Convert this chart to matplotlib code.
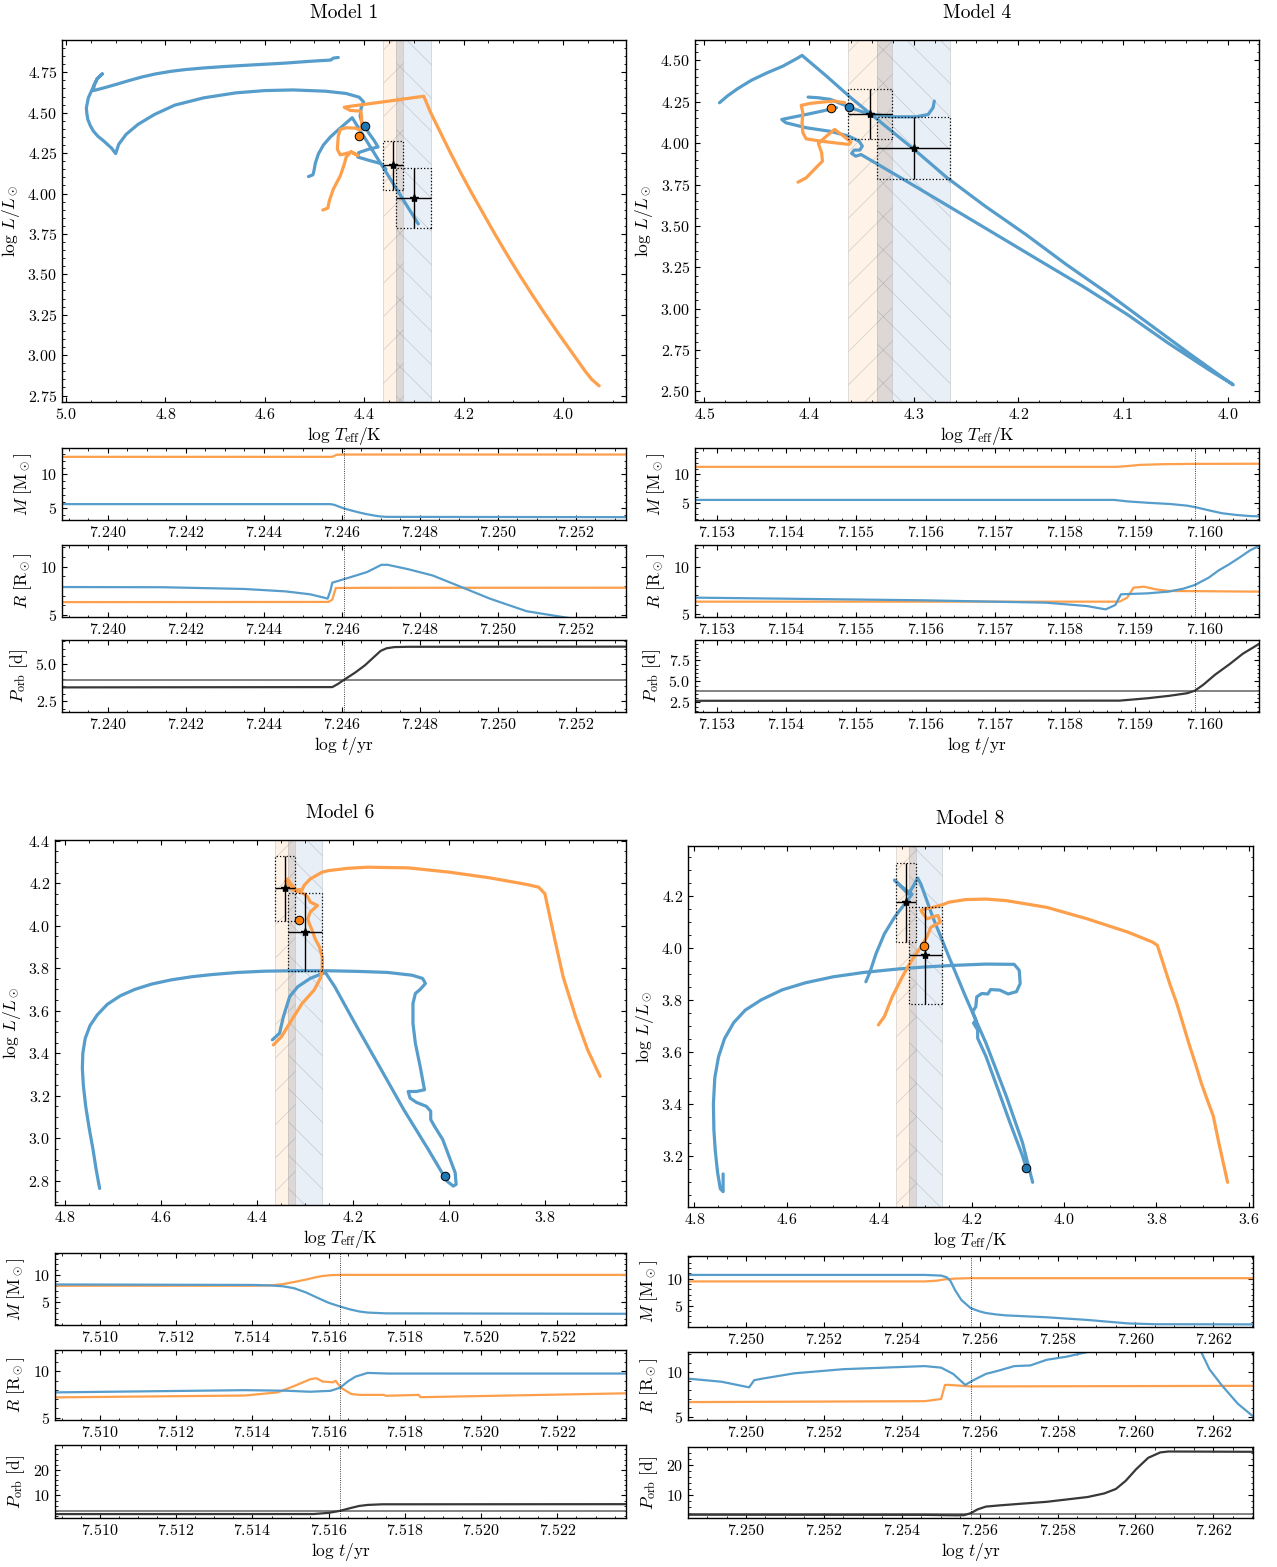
import numpy as np
import matplotlib
matplotlib.use('Agg')
import matplotlib.pyplot as plt
from matplotlib.patches import Rectangle
from matplotlib.ticker import MultipleLocator, AutoMinorLocator

nan = np.nan

# observed components (log Teff, log L) with errors
obs_teff = [4.342, 4.300]
obs_teff_err = [0.021, 0.035]
obs_lum = [4.175, 3.970]
obs_lum_err = [0.152, 0.185]
obs_porb = 3.9

# ---------------- Model 1 ----------------
m1_blue_teff = [4.452, 4.462, 4.467, 4.510, 4.559, 4.600, 4.641, 4.680, 4.723, 4.760, 4.789, 4.820,
                4.846, 4.872, 4.896, 4.920, 4.937, 4.945,
                4.943, 4.937, 4.927, 4.937, 4.945, 4.955, 4.959, 4.958, 4.956, 4.951, 4.945, 4.936,
                4.924, 4.908, 4.900,
                4.894, 4.879, 4.855, 4.822, 4.781, 4.723, 4.658, 4.600, 4.543, 4.477, 4.436, 4.410,
                4.401, 4.406, 4.408, 4.405, 4.399, 4.391, 4.380, 4.372, 4.391, 4.411, 4.413, 4.391,
                4.366, 4.356, nan,
                4.512, 4.503, 4.501, 4.498, 4.492, 4.482, 4.468, 4.450, 4.435, 4.424, 4.291]
m1_blue_lum = [4.842, 4.838, 4.826, 4.818, 4.807, 4.800, 4.793, 4.786, 4.777, 4.767, 4.756, 4.740,
               4.722, 4.700, 4.678, 4.657, 4.643, 4.637,
               4.674, 4.711, 4.740, 4.711, 4.660, 4.592, 4.530, 4.495, 4.458, 4.420, 4.387, 4.355,
               4.325, 4.280, 4.247,
               4.304, 4.366, 4.428, 4.489, 4.547, 4.592, 4.623, 4.637, 4.641, 4.633, 4.619, 4.596,
               4.567, 4.530, 4.479, 4.444, 4.419, 4.376, 4.329, 4.288, 4.274, 4.253, 4.226, 4.206,
               4.185, 4.150, nan,
               4.105, 4.116, 4.140, 4.190, 4.245, 4.300, 4.350, 4.400, 4.440, 4.469, 3.812]
m1_orange_teff = [4.483, 4.473, 4.470, 4.462, 4.448, 4.440, 4.436, 4.426, 4.413, 4.426, 4.448, 4.454,
                  4.452, 4.448, 4.436, 4.418, 4.408, 4.405, 4.405, 4.407, 4.428, 4.440, 4.428, 4.362,
                  4.313, 4.280, 4.266, 4.250, 4.226, 4.205, 4.183, 4.160, 4.137, 4.113, 4.088, 4.062,
                  4.035, 4.007, 3.978, 3.955, 3.942, 3.927]
m1_orange_lum = [3.898, 3.910, 3.955, 4.027, 4.109, 4.181, 4.226, 4.259, 4.236, 4.256, 4.239, 4.274,
                 4.356, 4.397, 4.407, 4.405, 4.392, 4.428, 4.479, 4.510, 4.514, 4.534, 4.540, 4.567,
                 4.588, 4.602, 4.500, 4.400, 4.250, 4.125, 4.000, 3.875, 3.750, 3.625, 3.500, 3.375,
                 3.250, 3.125, 3.000, 2.900, 2.850, 2.810]
m1_dots = [(4.399, 4.419), (4.410, 4.356)]

m1_t_mo = [7.23883, 7.24576, 7.24587, 7.24606, 7.25329]
m1_mo = [12.6, 12.6, 12.9, 12.94, 12.94]
m1_t_mb = [7.23883, 7.24570, 7.24580, 7.24592, 7.24606, 7.24625, 7.24645, 7.24665, 7.24686, 7.24700,
           7.24715, 7.25329]
m1_mb = [5.64, 5.64, 5.55, 5.3, 5.0, 4.7, 4.4, 4.15, 3.93, 3.82, 3.76, 3.72]
m1_t_rb = [7.23883, 7.24141, 7.24351, 7.24456, 7.24519, 7.24555, 7.24564, 7.24571, 7.24576, 7.24613,
           7.24665, 7.24702, 7.24718, 7.24770, 7.24833, 7.24907, 7.24980, 7.25074, 7.25174, 7.25329]
m1_rb = [7.9, 7.88, 7.7, 7.45, 7.15, 6.8, 6.7, 7.5, 8.35, 8.8, 9.45, 10.2, 10.2, 9.75, 9.1, 7.9,
         6.7, 5.4, 4.75, 3.8]
m1_t_ro = [7.23883, 7.24566, 7.24576, 7.24585, 7.24665, 7.25329]
m1_ro = [6.34, 6.36, 6.6, 7.8, 7.82, 7.83]
m1_t_p = [7.23883, 7.24576, 7.24590, 7.24606, 7.24634, 7.24660, 7.24681, 7.24700, 7.24715, 7.24735,
          7.24770, 7.25329]
m1_p = [3.43, 3.45, 3.65, 3.93, 4.4, 4.9, 5.4, 5.85, 6.02, 6.1, 6.12, 6.13]
m1_t_cross = 7.24606

# ---------------- Model 4 ----------------
m4_blue_teff = [4.4856, 4.4780, 4.4680, 4.4550, 4.4400, 4.4250, 4.4120, 4.4067, 4.3834, 4.3600, 4.3289,
                4.2978, 4.2679, 4.2317, 4.1928, 4.1540, 4.1151, 4.0762, 4.0373, 4.0062, 3.9946, 4.0179,
                4.0568, 4.0957, 4.1384, 4.1812, 4.2240, 4.2667, 4.3095, 4.3503, 4.3554, 4.3593, 4.3569,
                4.3515, 4.3491, 4.3522, 4.3620, 4.3795, 4.4028, 4.4222, 4.4261, 4.4183, 4.4028, 4.3872,
                4.3736, nan,
                4.4009, 4.3911, 4.3795, 4.3678, 4.3620, 4.3445, 4.3211, 4.2978, 4.2862, 4.2815, 4.2803]
m4_blue_lum = [4.244, 4.285, 4.330, 4.380, 4.425, 4.465, 4.510, 4.530, 4.405, 4.274, 4.113,
               3.952, 3.790, 3.619, 3.448, 3.266, 3.095, 2.913, 2.732, 2.591, 2.540, 2.631,
               2.792, 2.964, 3.135, 3.296, 3.458, 3.619, 3.780, 3.931, 3.921, 3.938, 3.958,
               3.958, 3.982, 4.012, 4.042, 4.071, 4.093, 4.123, 4.143, 4.153, 4.173, 4.194,
               4.214, nan,
               4.278, 4.274, 4.264, 4.234, 4.218, 4.179, 4.159, 4.159, 4.173, 4.214, 4.254]
m4_orange_teff = [4.4106, 4.4028, 4.3950, 4.3872, 4.3880, 4.3911, 4.3834, 4.3756, 4.3678, 4.3600, 4.3620,
                  4.3756, 4.3892, 4.4028, 4.4059, 4.4067, 4.4059, 4.4075, 4.3989, 4.3872, 4.3756, 4.3659]
m4_orange_lum = [3.764, 3.790, 3.841, 3.891, 3.942, 3.998, 4.042, 4.083, 4.046, 4.006, 3.992,
                 4.002, 4.012, 4.026, 4.063, 4.123, 4.183, 4.228, 4.240, 4.248, 4.254, 4.244]
m4_dots = [(4.362, 4.218), (4.3795, 4.210)]

m4_t_mo = [7.15269, 7.15875, 7.15890, 7.15907, 7.15940, 7.15986, 7.16078]
m4_mo = [11.35, 11.35, 11.5, 11.7, 11.82, 11.88, 11.9]
m4_t_mb = [7.15269, 7.15870, 7.15890, 7.15920, 7.15950, 7.15975, 7.15986, 7.16005, 7.16025, 7.16045,
           7.16065, 7.16078]
m4_mb = [5.47, 5.47, 5.2, 4.95, 4.75, 4.45, 4.2, 3.65, 3.1, 2.8, 2.6, 2.55]
m4_t_rb = [7.15269, 7.15598, 7.15773, 7.15831, 7.15858, 7.15872, 7.15880, 7.15918, 7.15948, 7.15970,
           7.15986, 7.16006, 7.16020, 7.16035, 7.16050, 7.16065, 7.16078]
m4_rb = [6.75, 6.47, 6.22, 5.87, 5.52, 5.98, 7.1, 7.2, 7.38, 7.7, 8.08, 8.85, 9.6, 10.24, 10.95,
         11.7, 12.17]
m4_t_ro = [7.15269, 7.15878, 7.15889, 7.15898, 7.15913, 7.15930, 7.15948, 7.16078]
m4_ro = [6.33, 6.33, 6.75, 7.8, 7.9, 7.62, 7.45, 7.38]
m4_t_p = [7.15269, 7.15878, 7.15918, 7.15950, 7.15975, 7.15986, 7.15998, 7.16015, 7.16035, 7.16055,
          7.16078]
m4_p = [2.7, 2.72, 3.0, 3.3, 3.6, 3.9, 4.6, 5.8, 7.0, 8.3, 9.45]
m4_t_cross = 7.15986

# ---------------- Model 6 ----------------
m6_blue_teff = [4.728, 4.735, 4.742, 4.750, 4.757, 4.762, 4.764, 4.763, 4.758, 4.748, 4.733, 4.712,
                4.685, 4.655, 4.620, 4.579, 4.535, 4.494, 4.440, 4.383, 4.320, 4.255, 4.190,
                4.128, 4.077, 4.055, 4.049, 4.060, 4.070, 4.075, 4.075, 4.070, 4.060, 4.051, 4.068,
                4.085, 4.081, 4.068, 4.047, 4.038, 4.038, 4.030, 4.013, 4.000, 3.987, 3.985, 3.991,
                4.004, 4.043, 4.094, 4.145, 4.196, 4.238, 4.257, 4.264, 4.289, 4.315, 4.332, 4.345,
                4.353, 4.368]
m6_blue_lum = [2.764, 2.850, 2.950, 3.050, 3.150, 3.250, 3.330, 3.400, 3.470, 3.530, 3.580, 3.630,
               3.670, 3.700, 3.725, 3.745, 3.760, 3.770, 3.780, 3.786, 3.788, 3.788, 3.785,
               3.780, 3.767, 3.752, 3.728, 3.700, 3.681, 3.634, 3.541, 3.447, 3.338, 3.228, 3.220,
               3.220, 3.189, 3.169, 3.150, 3.127, 3.088, 3.056, 2.994, 2.916, 2.838, 2.783, 2.775,
               2.798, 2.947, 3.134, 3.338, 3.541, 3.713, 3.778, 3.775, 3.752, 3.713, 3.666, 3.572,
               3.494, 3.463]
m6_orange_teff = [4.366, 4.349, 4.332, 4.306, 4.281, 4.268, 4.264, 4.264, 4.270, 4.279, 4.285, 4.291,
                  4.294, 4.289, 4.274, 4.289, 4.294, 4.302, 4.311, 4.323, 4.332, 4.340, 4.336, 4.330,
                  4.319, 4.306, 4.302, 4.289, 4.264, 4.251, 4.210, 4.170, 4.085, 4.000, 3.915, 3.838,
                  3.813, 3.800, 3.791, 3.779, 3.762, 3.736, 3.711, 3.685]
m6_orange_lum = [3.439, 3.478, 3.541, 3.634, 3.697, 3.752, 3.791, 3.853, 3.900, 3.939, 3.978, 4.009,
                 4.033, 4.064, 4.095, 4.111, 4.134, 4.150, 4.158, 4.166, 4.181, 4.209, 4.220, 4.197,
                 4.169, 4.169, 4.189, 4.220, 4.252, 4.259, 4.270, 4.275, 4.272, 4.252, 4.225, 4.194,
                 4.181, 4.150, 4.056, 3.931, 3.759, 3.572, 3.416, 3.291]
m6_dots = [(4.009, 2.822), (4.313, 4.028)]

m6_t_mo = [7.50882, 7.51400, 7.51445, 7.51480, 7.51510, 7.51541, 7.51565, 7.51584, 7.51605, 7.51630,
           7.52380]
m6_mo = [8.05, 8.05, 8.1, 8.35, 8.75, 9.2, 9.6, 9.85, 10.0, 10.06, 10.06]
m6_t_mb = [7.50882, 7.51400, 7.51445, 7.51480, 7.51509, 7.51541, 7.51573, 7.51600, 7.51630, 7.51655,
           7.51680, 7.51702, 7.51750, 7.52380]
m6_mb = [8.29, 8.2, 8.12, 7.95, 7.6, 6.8, 5.75, 4.9, 4.21, 3.7, 3.3, 3.1, 2.95, 2.87]
m6_t_rb = [7.50882, 7.51380, 7.51488, 7.51552, 7.51605, 7.51630, 7.51650, 7.51670, 7.51702, 7.51755,
           7.52380]
m6_rb = [7.72, 7.96, 7.9, 7.79, 7.89, 8.23, 8.9, 9.42, 9.83, 9.76, 9.76]
m6_t_ro = [7.50882, 7.51380, 7.51466, 7.51509, 7.51552, 7.51568, 7.51584, 7.51611, 7.51618, 7.51632,
           7.51659, 7.51680, 7.51745, 7.51750, 7.51836, 7.51841, 7.52380]
m6_ro = [7.18, 7.38, 7.72, 8.4, 9.15, 9.25, 8.9, 8.81, 8.98, 8.23, 7.55, 7.45, 7.45, 7.35, 7.45, 7.2, 7.62]
m6_t_p = [7.50882, 7.51560, 7.51600, 7.51630, 7.51655, 7.51680, 7.51702, 7.51740, 7.52380]
m6_p = [2.73, 2.75, 3.2, 4.0, 5.0, 5.9, 6.3, 6.55, 6.6]
m6_t_cross = 7.51630

# ---------------- Model 8 ----------------
m8_blue_teff = [4.429, 4.420, 4.407, 4.389, 4.367, 4.345, 4.329, 4.350, 4.367, 4.337, 4.326, 4.317,
                4.310, 4.284, 4.249, 4.213, 4.169, 4.125, 4.090, 4.068, nan,
                4.738, 4.738, 4.744, 4.750, 4.755, 4.758, 4.759, 4.756, 4.748, 4.735, 4.715, 4.690,
                4.655, 4.610, 4.560, 4.500, 4.433, 4.360, 4.300, 4.240, 4.169, 4.108, 4.097, 4.095,
                4.103, 4.121, 4.139, 4.159, 4.165, 4.178, 4.189, 4.191, 4.198, 4.191, 4.196, 4.187,
                4.187, 4.169, 4.143, 4.117, 4.090, 4.081]
m8_blue_lum = [3.869, 3.907, 3.977, 4.053, 4.117, 4.168, 4.206, 4.232, 4.260, 4.206, 4.238, 4.268,
               4.245, 4.117, 3.964, 3.811, 3.633, 3.429, 3.251, 3.098, nan,
               3.130, 3.062, 3.073, 3.136, 3.220, 3.300, 3.400, 3.500, 3.580, 3.650, 3.712, 3.760,
               3.800, 3.838, 3.865, 3.888, 3.905, 3.918, 3.926, 3.932, 3.937, 3.936, 3.913, 3.862,
               3.831, 3.822, 3.837, 3.839, 3.822, 3.824, 3.811, 3.773, 3.754, 3.722, 3.710, 3.684,
               3.652, 3.582, 3.455, 3.327, 3.200, 3.149]
m8_orange_teff = [4.402, 4.389, 4.372, 4.350, 4.332, 4.310, 4.297, 4.288, 4.268, 4.273, 4.297, 4.310,
                  4.301, 4.284, 4.262, 4.249, 4.213, 4.169, 4.125, 4.037, 3.950, 3.862, 3.809, 3.798,
                  3.790, 3.783, 3.770, 3.756, 3.743, 3.730, 3.716, 3.703, 3.690, 3.677, 3.665, 3.655,
                  3.646]
m8_orange_lum = [3.703, 3.735, 3.811, 3.888, 3.945, 4.003, 4.041, 4.079, 4.098, 4.124, 4.111, 4.143,
                 4.149, 4.155, 4.166, 4.175, 4.185, 4.187, 4.181, 4.155, 4.111, 4.060, 4.022, 4.009,
                 3.965, 3.926, 3.855, 3.786, 3.710, 3.633, 3.556, 3.480, 3.415, 3.353, 3.250, 3.170,
                 3.098]
m8_dots = [(4.083, 3.153), (4.304, 4.006)]

m8_t_mo = [7.24851, 7.25459, 7.25490, 7.25511, 7.25540, 7.25577, 7.26302]
m8_mo = [9.51, 9.51, 9.65, 9.9, 10.05, 10.12, 10.12]
m8_t_mb = [7.24851, 7.25459, 7.25501, 7.25515, 7.25525, 7.25537, 7.25553, 7.25577, 7.25600, 7.25616,
           7.25640, 7.25668, 7.25772, 7.25877, 7.25981, 7.26050, 7.26302]
m8_mb = [10.73, 10.73, 10.6, 10.3, 9.6, 7.87, 6.04, 4.51, 3.9, 3.6, 3.35, 3.15, 2.8, 2.3, 1.65, 1.5, 1.47]
m8_t_rb = [7.24851, 7.24937, 7.25008, 7.25021, 7.25042, 7.25125, 7.25250, 7.25459, 7.25501, 7.25532,
           7.25563, 7.25584, 7.25616, 7.25647, 7.25689, 7.25730, 7.25772, 7.25824, 7.25877, 7.25980,
           7.26060, 7.26169, 7.26190, 7.26221, 7.26263, 7.26302]
m8_rb = [9.24, 8.9, 8.28, 9.07, 9.24, 9.83, 10.28, 10.62, 10.45, 9.76, 8.55, 9.07, 9.76, 10.1, 10.62,
         10.69, 11.31, 11.66, 12.17, 14.5, 15.0, 12.17, 10.28, 8.55, 6.48, 5.1]
m8_t_ro = [7.24851, 7.25459, 7.25501, 7.25511, 7.25522, 7.25577, 7.26302]
m8_ro = [6.66, 6.76, 7.0, 8.55, 8.55, 8.38, 8.45]
m8_t_p = [7.24851, 7.25459, 7.25540, 7.25560, 7.25577, 7.25595, 7.25616, 7.25650, 7.25700, 7.25772,
          7.25877, 7.25920, 7.25950, 7.25975, 7.26002, 7.26033, 7.26064, 7.26085, 7.26302]
m8_p = [3.5, 3.45, 3.3, 3.35, 4.0, 5.3, 6.2, 6.6, 7.1, 7.8, 9.4, 10.6, 12.1, 14.8, 18.7, 22.5, 24.3,
        24.6, 24.5]
m8_t_cross = 7.25577

BLUE = '#569dcb'
ORANGE = '#fd9f4b'

plt.rcParams.update({
    'font.family': 'cmr10',
    'mathtext.fontset': 'cm',
    'axes.formatter.use_mathtext': True,
    'axes.unicode_minus': False,
    'xtick.direction': 'in', 'ytick.direction': 'in',
    'xtick.top': True, 'ytick.right': True,
    'xtick.minor.visible': True, 'ytick.minor.visible': True,
    'xtick.major.size': 3.5, 'ytick.major.size': 3.5,
    'xtick.minor.size': 1.8, 'ytick.minor.size': 1.8,
    'xtick.labelsize': 11.5, 'ytick.labelsize': 11.5,
    'axes.labelsize': 12.5,
    'axes.linewidth': 1.0,
    'hatch.linewidth': 0.5,
})

W, H = 1277, 1567
fig = plt.figure(figsize=(W / 100, H / 100), dpi=100)


def box(l, r, t, b):
    return [l / W, 1 - b / H, (r - l) / W, (b - t) / H]


def draw_hr(rect, title, bt, bl, ot, ol, dots, xlim, ylim, xstep, ystep):
    ax = fig.add_axes(box(*rect))
    # observational Teff bands
    lo = [t - e for t, e in zip(obs_teff, obs_teff_err)]
    hi = [t + e for t, e in zip(obs_teff, obs_teff_err)]
    ax.axvspan(lo[0], hi[0], fc=(1.0, 0.6, 0.2, 0.11), ec=(0.5, 0.5, 0.5, 0.35), lw=0.5,
               hatch='/', zorder=0)
    ax.axvspan(lo[1], hi[1], fc=(0.2, 0.45, 0.75, 0.11), ec=(0.5, 0.5, 0.5, 0.35), lw=0.5,
               hatch='\\', zorder=0)
    ax.axvspan(max(lo), min(hi), fc=(0.45, 0.38, 0.35, 0.09), lw=0, zorder=0)

    ax.plot(bt, bl, color=BLUE, lw=2.3, zorder=2, solid_capstyle='round', solid_joinstyle='round')
    ax.plot(ot, ol, color=ORANGE, lw=2.3, zorder=2, solid_capstyle='round', solid_joinstyle='round')

    for x, y, xe, ye in zip(obs_teff, obs_lum, obs_teff_err, obs_lum_err):
        ax.add_patch(Rectangle((x - xe, y - ye), 2 * xe, 2 * ye, fill=False, ls=':', lw=0.9,
                               ec='k', zorder=3))
        ax.errorbar(x, y, xerr=xe, yerr=ye, fmt='*', color='k', ms=6, lw=1.0, capsize=0,
                    zorder=3)

    ax.scatter(dots[0][0], dots[0][1], s=38, fc='#1f77b4', ec='k', lw=0.7, zorder=5)
    ax.scatter(dots[1][0], dots[1][1], s=38, fc='#ff7f0e', ec='k', lw=0.7, zorder=5)

    ax.set_xlim(*xlim)
    ax.set_ylim(*ylim)
    ax.xaxis.set_major_locator(MultipleLocator(xstep))
    ax.yaxis.set_major_locator(MultipleLocator(ystep))
    ax.xaxis.set_minor_locator(AutoMinorLocator())
    ax.yaxis.set_minor_locator(AutoMinorLocator())
    ax.set_xlabel(r'$\log\,T_{\rm eff}/{\rm K}$', labelpad=2)
    ax.set_ylabel(r'$\log\,L/L_\odot$')
    ax.set_title(title, fontsize=14, pad=16)
    return ax


def draw_time(xl, xr, tops, t_mo, mo, t_mb, mb, t_ro, ro, t_rb, rb, t_p, p, t_cross,
              ylims, pstep, xstep):
    axes = [fig.add_axes(box(xl, xr, t, b)) for t, b in tops]
    ax_m, ax_r, ax_p = axes
    ax_m.plot(t_mo, mo, color=ORANGE, lw=1.6)
    ax_m.plot(t_mb, mb, color=BLUE, lw=1.6)
    ax_r.plot(t_ro, ro, color=ORANGE, lw=1.6)
    ax_r.plot(t_rb, rb, color=BLUE, lw=1.6)
    ax_p.axhline(obs_porb, color='#6e6e6e', lw=1.2)
    ax_p.plot(t_p, p, color='#383838', lw=1.6)
    ax_m.set_ylabel(r'$M\ [{\rm M}_\odot]$')
    ax_r.set_ylabel(r'$R\ [{\rm R}_\odot]$')
    ax_p.set_ylabel(r'$P_{\rm orb}\ [{\rm d}]$')
    ax_p.set_xlabel(r'$\log\,t/{\rm yr}$', labelpad=2)
    steps = [5, 5, pstep]
    for ax, yl, st in zip(axes, ylims, steps):
        ax.axvline(t_cross, color='k', ls=':', lw=0.6)
        ax.set_xlim(t_p[0], t_p[-1])
        ax.set_ylim(*yl)
        ax.xaxis.set_major_locator(MultipleLocator(xstep))
        ax.yaxis.set_major_locator(MultipleLocator(st))
        ax.xaxis.set_minor_locator(AutoMinorLocator())
        ax.yaxis.set_minor_locator(AutoMinorLocator())
        ax.ticklabel_format(axis='x', useOffset=False)
    fig.align_ylabels(axes)
    return axes


# Model 1
draw_hr((62, 626, 40, 402), 'Model 1', m1_blue_teff, m1_blue_lum, m1_orange_teff, m1_orange_lum,
        m1_dots, (5.008, 3.873), (2.71, 4.95), 0.2, 0.25)
draw_time(62, 626, [(448, 520), (545, 617), (640, 712)], m1_t_mo, m1_mo, m1_t_mb, m1_mb,
          m1_t_ro, m1_ro, m1_t_rb, m1_rb, m1_t_p, m1_p, m1_t_cross,
          [(3.3, 13.9), (4.8, 12.25), (1.8, 6.57)], 2.5, 0.002)

# Model 4
draw_hr((695, 1259, 40, 402), 'Model 4', m4_blue_teff, m4_blue_lum, m4_orange_teff, m4_orange_lum,
        m4_dots, (4.509, 3.970), (2.436, 4.623), 0.1, 0.25)
draw_time(695, 1259, [(448, 520), (545, 617), (640, 712)], m4_t_mo, m4_mo, m4_t_mb, m4_mb,
          m4_t_ro, m4_ro, m4_t_rb, m4_rb, m4_t_p, m4_p, m4_t_cross,
          [(1.9, 14.7), (4.72, 12.27), (1.37, 9.92)], 2.5, 0.001)

# Model 6
draw_hr((55, 626, 840, 1205), 'Model 6', m6_blue_teff, m6_blue_lum, m6_orange_teff, m6_orange_lum,
        m6_dots, (4.821, 3.631), (2.686, 4.403), 0.2, 0.2)
draw_time(55, 626, [(1253, 1325), (1350, 1420), (1445, 1518)], m6_t_mo, m6_mo, m6_t_mb, m6_mb,
          m6_t_ro, m6_ro, m6_t_rb, m6_rb, m6_t_p, m6_p, m6_t_cross,
          [(0.8, 14.1), (4.73, 12.31), (1.2, 29.7)], 10, 0.002)

# Model 8
draw_hr((688, 1253, 846, 1207), 'Model 8', m8_blue_teff, m8_blue_lum, m8_orange_teff, m8_orange_lum,
        m8_dots, (4.814, 3.591), (3.003, 4.391), 0.2, 0.2)
draw_time(688, 1253, [(1256, 1327), (1352, 1420), (1447, 1518)], m8_t_mo, m8_mo, m8_t_mb, m8_mb,
          m8_t_ro, m8_ro, m8_t_rb, m8_rb, m8_t_p, m8_p, m8_t_cross,
          [(0.98, 14.27), (4.69, 12.17), (2.4, 26.1)], 10, 0.002)

fig.savefig('out.png', dpi=100)
